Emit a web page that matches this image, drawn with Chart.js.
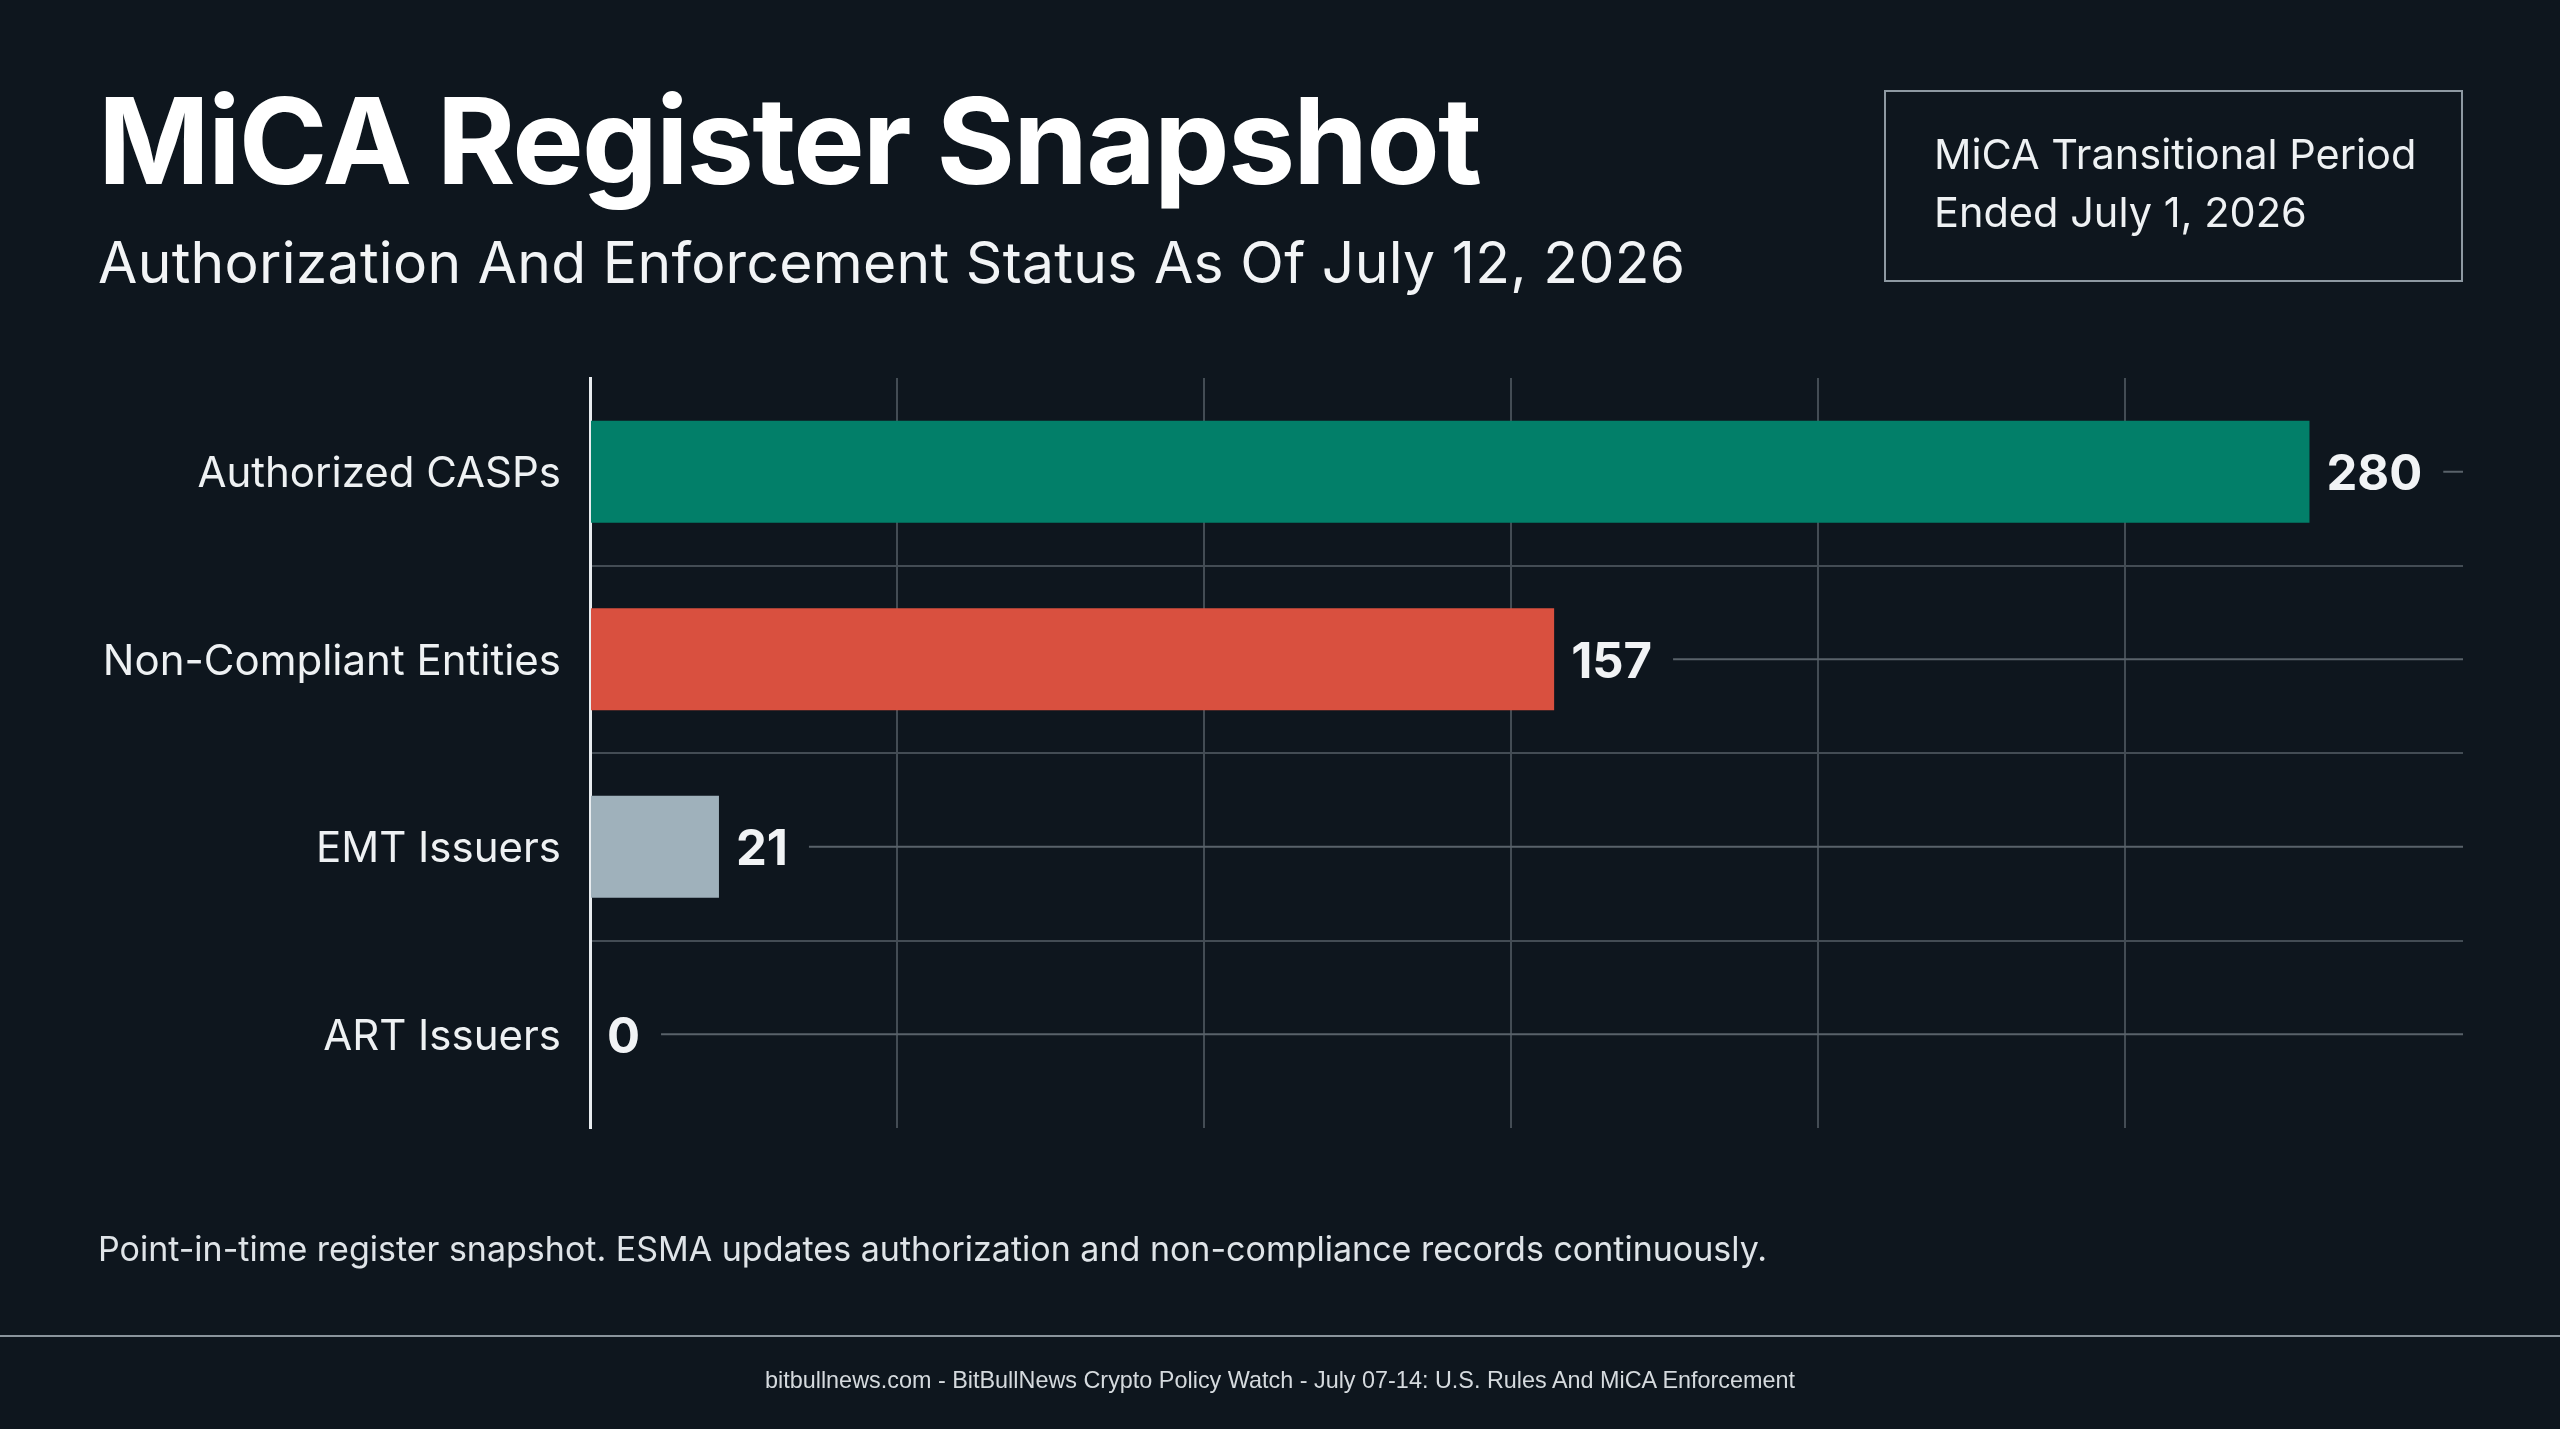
<!DOCTYPE html>
<html>
<head>
<meta charset="utf-8">
<script src="https://cdn.jsdelivr.net/npm/chart.js@4.4.1/dist/chart.umd.min.js"></script>
<style>
  html, body { margin: 0; padding: 0; background: #0e161e; }
  body { width: 2560px; height: 1429px; position: relative; overflow: hidden; font-family: Inter, "Noto Sans", sans-serif; color: #f4f6f8; }
  #chart { position: absolute; left: 0; top: 0; }
  .abs { position: absolute; white-space: nowrap; }
  #title { left: 98px; top: 81px; font-size: 120px; font-weight: 700; line-height: 1; letter-spacing: -1.8px; color: #ffffff; }
  #subtitle { left: 98px; top: 234px; font-size: 57px; font-weight: 400; line-height: 1; letter-spacing: 0.3px; color: #f2f4f6; }
  #note { left: 1884px; top: 90px; width: 575px; height: 188px; border: 2px solid #8e99a2; }
  #noteText { left: 1934px; top: 125px; font-size: 41.5px; line-height: 58px; color: #eef1f3; }
  #foot { left: 98px; top: 1232px; font-size: 34px; line-height: 1; color: #dfe4e8; }
  #rule { left: 0; top: 1335px; width: 2560px; height: 2px; background: #8a949c; }
  #credit { left: 0; width: 2560px; top: 1369px; text-align: center; font-family: "Liberation Sans", Arial, sans-serif; font-size: 23.4px; line-height: 1; color: #d5dade; }
</style>
</head>
<body>
<canvas id="chart" width="2560" height="1429"></canvas>
<div class="abs" id="title">MiCA Register Snapshot</div>
<div class="abs" id="subtitle">Authorization And Enforcement Status As Of July 12, 2026</div>
<div class="abs" id="note"></div>
<div class="abs" id="noteText">MiCA Transitional Period<br>Ended July 1, 2026</div>
<div class="abs" id="foot">Point-in-time register snapshot. ESMA updates authorization and non-compliance records continuously.</div>
<div class="abs" id="rule"></div>
<div class="abs" id="credit">bitbullnews.com - BitBullNews Crypto Policy Watch - July 07-14: U.S. Rules And MiCA Enforcement</div>

<script>
const categories = ['Authorized CASPs', 'Non-Compliant Entities', 'EMT Issuers', 'ART Issuers'];
const counts = [280, 157, 21, 0];
const barColors = ['#027f69', '#d9503f', '#9fb1bb', '#9fb1bb'];
const axisMax = 305;
const gridStep = 50;

const gridColor = '#434c54';

// value label + leader line to the right edge
const valueLabels = {
  id: 'valueLabels',
  afterDatasetsDraw(chart) {
    const ctx = chart.ctx;
    const meta = chart.getDatasetMeta(0);
    const right = chart.chartArea.right;
    ctx.save();
    ctx.font = 'bold 49px Inter, sans-serif';
    ctx.textBaseline = 'middle';
    ctx.textAlign = 'left';
    meta.data.forEach((bar, i) => {
      const txt = String(counts[i]);
      const x = bar.x + 17;
      ctx.fillStyle = '#f1f3f5';
      ctx.fillText(txt, x, bar.y + 4);
      const w = ctx.measureText(txt).width;
      ctx.strokeStyle = '#59626a';
      ctx.lineWidth = 2;
      ctx.beginPath();
      ctx.moveTo(x + w + 21, bar.y);
      ctx.lineTo(right, bar.y);
      ctx.stroke();
    });
    ctx.restore();
  }
};

new Chart(document.getElementById('chart').getContext('2d'), {
  type: 'bar',
  data: {
    labels: categories,
    datasets: [{
      data: counts,
      backgroundColor: barColors,
      borderWidth: 0,
      barPercentage: 0.544,
      categoryPercentage: 1
    }]
  },
  options: {
    indexAxis: 'y',
    responsive: false,
    animation: false,
    layout: { padding: { left: 0, top: 378, right: 97, bottom: 301 } },
    plugins: { legend: { display: false }, tooltip: { enabled: false } },
    scales: {
      x: {
        min: 0,
        max: axisMax,
        ticks: { display: false, stepSize: gridStep },
        border: { display: false },
        grid: {
          drawTicks: false,
          lineWidth: 2,
          color: c => (c.tick && (c.tick.value === 0 || c.tick.value >= 300)) ? 'rgba(0,0,0,0)' : gridColor
        }
      },
      y: {
        afterFit: s => { s.width = 590; },
        ticks: {
          padding: 29,
          labelOffset: 3,
          color: '#eef1f3',
          font: { family: 'Inter', size: 42 }
        },
        border: { display: true, color: '#e8ecef', width: 3 },
        grid: {
          drawTicks: false,
          lineWidth: 2,
          color: c => (!c.tick || c.index === 0) ? 'rgba(0,0,0,0)' : gridColor
        }
      }
    }
  },
  plugins: [valueLabels]
});
</script>
</body>
</html>
